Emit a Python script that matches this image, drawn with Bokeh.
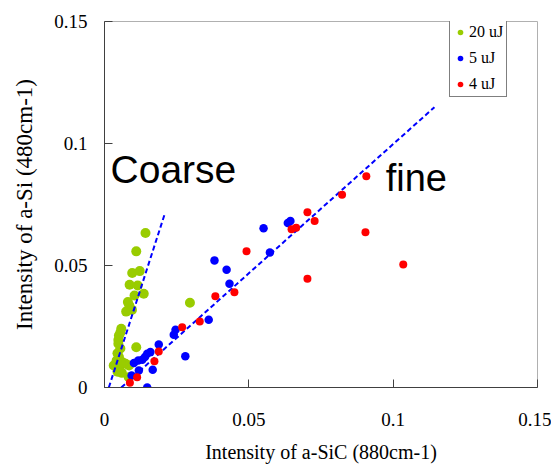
from bokeh.plotting import figure
from bokeh.models import Range1d, FixedTicker, Label, Legend, LegendItem, CustomJSTickFormatter
from bokeh.embed import file_html
from bokeh.resources import INLINE

# ---- data ----
green_x = [0.0142, 0.0110, 0.0096, 0.0122, 0.0087, 0.0115, 0.0136, 0.0104, 0.0081, 0.0086,
           0.0075, 0.0095, 0.0296, 0.0058, 0.0055, 0.0050, 0.0048, 0.0048, 0.0110, 0.0055,
           0.0045, 0.0050, 0.0042, 0.0060, 0.0073, 0.0032, 0.0085, 0.0050, 0.0045, 0.0060, 0.0084]
green_y = [0.0633, 0.0558, 0.0469, 0.0477, 0.0421, 0.0418, 0.0384, 0.0377, 0.0350, 0.0336,
           0.0311, 0.0318, 0.0347, 0.0241, 0.0225, 0.0213, 0.0195, 0.0179, 0.0165, 0.0160,
           0.0140, 0.0125, 0.0110, 0.0105, 0.0097, 0.0090, 0.0090, 0.0080, 0.0065, 0.0060, 0.0042]

blue_x = [0.0551, 0.0635, 0.0644, 0.0573, 0.0381, 0.0423, 0.0433, 0.0361, 0.0280, 0.0188,
          0.0246, 0.0240, 0.0159, 0.0148, 0.0140, 0.0131, 0.0117, 0.0102, 0.0119, 0.0167,
          0.0094, 0.0148]
blue_y = [0.0653, 0.0674, 0.0682, 0.0553, 0.0521, 0.0483, 0.0425, 0.0278, 0.0128, 0.0176,
          0.0237, 0.0216, 0.0145, 0.0138, 0.0125, 0.0114, 0.0111, 0.0100, 0.0070, 0.0073,
          0.0049, 0.0000]

red_x = [0.0907, 0.0823, 0.0703, 0.0728, 0.0648, 0.0664, 0.0904, 0.0492, 0.0703, 0.0384,
         0.0450, 0.0330, 0.0269, 0.1035, 0.0188, 0.0173, 0.0113, 0.0088]
red_y = [0.0866, 0.0790, 0.0718, 0.0682, 0.0649, 0.0655, 0.0636, 0.0558, 0.0446, 0.0374,
         0.0390, 0.0271, 0.0247, 0.0504, 0.0148, 0.0108, 0.0042, 0.0019]

coarse_line_x = [0.0015, 0.0208]
coarse_line_y = [0.0, 0.0709]
fine_line_x = [0.0058, 0.1143]
fine_line_y = [0.0, 0.1149]

ticks = [0, 0.05, 0.1, 0.15]
series_labels = ["20 uJ", "5 uJ", "4 uJ"]
series_colors = ["#99cc00", "#0000ff", "#ff0000"]
x_title = "Intensity of a-SiC (880cm-1)"
y_title = "Intensity of a-Si (480cm-1)"

# ---- figure ----
p = figure(width=551, height=467, output_backend="svg", toolbar_location=None,
           x_range=Range1d(0, 0.15), y_range=Range1d(0, 0.15),
           min_border_left=104, min_border_right=14, min_border_top=21, min_border_bottom=80)
p.grid.visible = False
p.background_fill_color = "white"
p.border_fill_color = "white"
p.outline_line_color = "#b0b0b0"
p.outline_line_width = 1

fmt = CustomJSTickFormatter(code="return tick.toString();")
for ax in (p.xaxis[0], p.yaxis[0]):
    ax.ticker = FixedTicker(ticks=ticks)
    ax.formatter = fmt
    ax.major_tick_in = 8
    ax.major_tick_out = 0
    ax.minor_tick_line_color = None
    ax.axis_line_color = "#404040"
    ax.major_tick_line_color = "#404040"
    ax.major_label_text_font = "Liberation Serif"
    ax.major_label_text_font_size = "19px"
    ax.major_label_text_color = "black"
    ax.axis_label_text_font = "Liberation Serif"
    ax.axis_label_text_font_style = "normal"
    ax.axis_label_text_color = "black"

p.xaxis.axis_label = x_title
p.yaxis.axis_label = y_title
p.xaxis.axis_label_text_font_size = "20px"
p.yaxis.axis_label_text_font_size = "23px"
p.xaxis.major_label_standoff = 25
p.xaxis.axis_label_standoff = 12
p.yaxis.major_label_standoff = 17
p.yaxis.axis_label_standoff = 14

rg = p.scatter(green_x, green_y, size=10, color=series_colors[0], line_color=None)
p.line(coarse_line_x, coarse_line_y, line_color="#0000ff", line_width=2, line_dash="5 3")
p.line(fine_line_x, fine_line_y, line_color="#0000ff", line_width=2, line_dash="5 3")
rb = p.scatter(blue_x, blue_y, size=8.5, color=series_colors[1], line_color=None)
rr = p.scatter(red_x, red_y, size=8, color=series_colors[2], line_color=None)

p.add_layout(Label(x=0.0021, y=0.0894, text="Coarse", text_font="Liberation Sans",
                   text_font_size="39px", text_color="black", text_baseline="alphabetic"))
p.add_layout(Label(x=0.0974, y=0.0860, text="fine", text_font="Liberation Sans",
                   text_font_size="38px", text_color="black", text_baseline="alphabetic"))

# legend swatches: off-chart (NaN) renderers with the smaller legend markers
nan = float("nan")
swatches = [p.scatter([nan], [nan], size=7, color=c, line_color=None) for c in series_colors]
legend = Legend(items=[LegendItem(label=lab, renderers=[r]) for lab, r in zip(series_labels, swatches)],
                location=(345, 290), margin=0, padding=3, spacing=8,
                glyph_width=14, glyph_height=18, label_height=18, label_standoff=2,
                label_text_font="Liberation Serif", label_text_font_size="16px",
                label_text_color="black",
                border_line_color="black", border_line_width=1,
                background_fill_color="white", background_fill_alpha=1)
p.add_layout(legend)

open("out.html", "w").write(file_html(p, INLINE))
